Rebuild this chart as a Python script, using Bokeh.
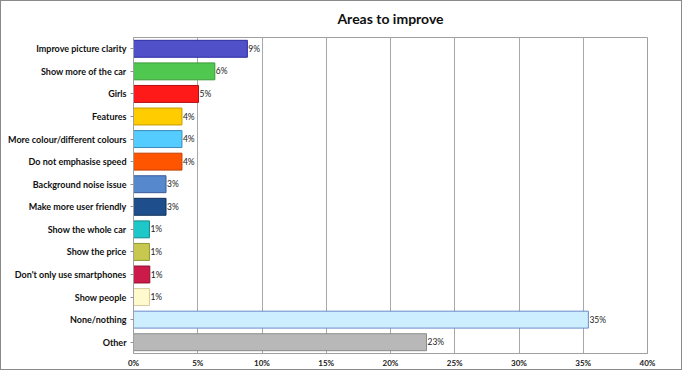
from bokeh.plotting import figure
from bokeh.models import FactorRange, FixedTicker, NumeralTickFormatter, ColumnDataSource, Range1d
from bokeh.core.properties import value
from bokeh.embed import file_html
from bokeh.resources import INLINE

title = "Areas to improve"
categories = ["Improve picture clarity", "Show more of the car", "Girls", "Features",
              "More colour/different colours", "Do not emphasise speed", "Background noise issue",
              "Make more user friendly", "Show the whole car", "Show the price",
              "Don't only use smartphones", "Show people", "None/nothing", "Other"]
values = [0.0886, 0.0633, 0.0506, 0.0377, 0.0377, 0.0377, 0.0253, 0.0253,
          0.0124, 0.0124, 0.0127, 0.0124, 0.354, 0.228]
labels = ["9%", "6%", "5%", "4%", "4%", "4%", "3%", "3%", "1%", "1%", "1%", "1%", "35%", "23%"]
colors = ["#5050C8", "#50C850", "#FF1A1A", "#FFCC00", "#55CCFF", "#FF5500", "#5588CC",
          "#1F4E8C", "#1FC8C8", "#C8C850", "#CC1A4A", "#FFFACD", "#CCEEFF", "#B8B8B8"]
edges = ["#2A2AA0", "#3A9A3A", "#B01010", "#C89A00", "#3A8AB8", "#C04000", "#3A5A9A",
         "#10305A", "#108A8A", "#8A9A30", "#901030", "#D8C8A0", "#6A8ACA", "#8A8A8A"]
x_ticks = [0, 0.05, 0.10, 0.15, 0.20, 0.25, 0.30, 0.35, 0.40]

src = ColumnDataSource(dict(cat=categories, val=values, lab=labels, col=colors, edge=edges))

p = figure(width=682, height=370, output_backend="svg", toolbar_location=None,
           y_range=FactorRange(*reversed(categories)), x_range=Range1d(0, 0.40),
           min_border_left=132, min_border_right=36, min_border_top=0, min_border_bottom=18)
p.styles = {"border": "1px solid #8a8a8a"}
p.title.text = title
p.title.align = "center"
p.title.vertical_align = "top"
p.title.text_font = "Lato"
p.title.text_font_size = "14px"
p.title.text_font_style = "bold"
p.title.text_color = "#101010"
p.title.standoff = 17

p.hbar(y="cat", right="val", height=0.75, left=0, source=src, fill_color="col",
       line_color="edge", line_width=1)
p.text(x="val", y="cat", text="lab", source=src, x_offset=1, text_baseline="middle",
       text_font=value("Lato"), text_font_size="8.5px", text_color="#1a1a1a")

p.outline_line_color = "#a0a0a0"
p.background_fill_color = "white"
p.ygrid.grid_line_color = None
p.xgrid.grid_line_color = "#a8a8a8"
p.xgrid.ticker = FixedTicker(ticks=x_ticks)

p.xaxis.ticker = FixedTicker(ticks=x_ticks)
p.xaxis.formatter = NumeralTickFormatter(format="0%")
p.xaxis.major_tick_out = 0
p.xaxis.major_tick_in = 0
p.xaxis.minor_tick_line_color = None
p.xaxis.axis_line_color = "#a0a0a0"
p.xaxis.major_label_text_font = "Lato"
p.xaxis.major_label_text_font_size = "8px"
p.xaxis.major_label_text_font_style = "bold"
p.xaxis.major_label_text_color = "#202020"
p.xaxis.major_label_standoff = 4

p.yaxis.axis_line_color = "#a0a0a0"
p.yaxis.major_tick_line_color = "#909090"
p.yaxis.major_tick_out = 3
p.yaxis.major_tick_in = 0
p.yaxis.major_label_text_font = "Lato"
p.yaxis.major_label_text_font_size = "9px"
p.yaxis.major_label_text_font_style = "bold"
p.yaxis.major_label_text_color = "#101010"
p.yaxis.major_label_standoff = 4
p.y_range.range_padding = 0

open("out.html", "w").write(file_html(p, INLINE))
